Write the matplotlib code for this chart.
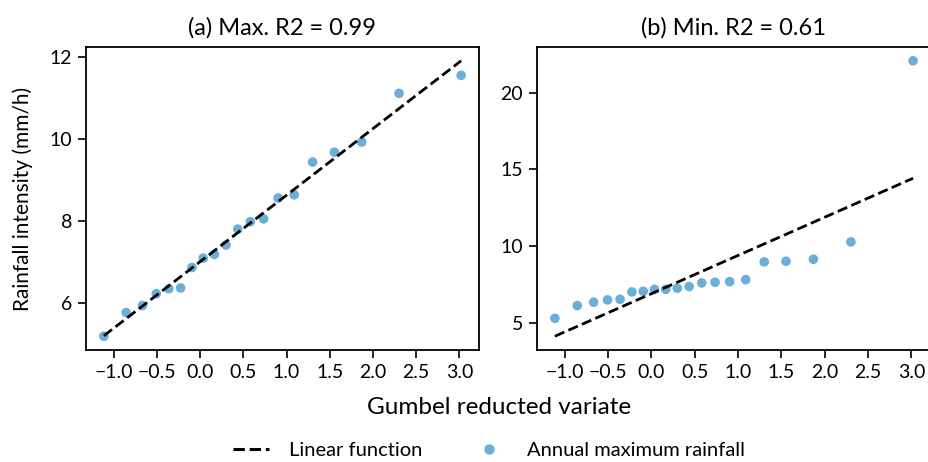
import numpy as np
import matplotlib
matplotlib.use("Agg")
import matplotlib.pyplot as plt
from matplotlib.lines import Line2D

plt.rcParams['font.family'] = ['Lato', 'DejaVu Sans']

# Gumbel reduced variate (x positions)
gumbel_x = [-1.113, -0.855, -0.666, -0.506, -0.361, -0.225, -0.094, 0.036,
            0.166, 0.299, 0.436, 0.581, 0.735, 0.903, 1.089, 1.302, 1.554,
            1.870, 2.302, 3.020]
# Panel (a) annual maximum rainfall intensity (mm/h)
rain_a = [5.18, 5.76, 5.93, 6.22, 6.34, 6.36, 6.86, 7.09, 7.18, 7.41, 7.80,
          7.98, 8.05, 8.56, 8.64, 9.44, 9.68, 9.93, 11.12, 11.56]
# Panel (b)
rain_b = [5.28, 6.11, 6.33, 6.48, 6.52, 7.00, 7.04, 7.17, 7.17, 7.24, 7.35,
          7.59, 7.63, 7.67, 7.80, 8.96, 9.00, 9.13, 10.26, 22.07]
titles = ["(a) Max. R2 = 0.99", "(b) Min. R2 = 0.61"]
xticks = [-1.0, -0.5, 0.0, 0.5, 1.0, 1.5, 2.0, 2.5, 3.0]

W, H = 929, 462
fig = plt.figure(figsize=(W / 100, H / 100), dpi=100)
ax_a = fig.add_axes([86 / W, 1 - 350 / H, (479 - 86) / W, (350 - 47) / H])
ax_b = fig.add_axes([537 / W, 1 - 350 / H, (931 - 537) / W, (350 - 47) / H])

pt_color = '#6baed6'
for ax, y, t in zip([ax_a, ax_b], [rain_a, rain_b], titles):
    x = np.array(gumbel_x)
    yy = np.array(y)
    k, b = np.polyfit(x, yy, 1)
    ax.plot(x, k * x + b, color='black', linestyle='--', linewidth=2, zorder=3)
    ax.scatter(x, yy, s=48, color=pt_color, edgecolors='none', zorder=2)
    ax.set_title(t, fontsize=17, pad=9)
    ax.set_xticks(xticks)
    ax.set_xticklabels([f"{v:.1f}".replace('-', '\u2212') for v in xticks])
    ax.tick_params(labelsize=14, width=1.2, length=6, pad=4)
    for s in ax.spines.values():
        s.set_linewidth(1.3)

ax_a.set_yticks([6, 8, 10, 12])
ax_b.set_yticks([5, 10, 15, 20])
ax_a.set_ylabel("Rainfall intensity (mm/h)", fontsize=15)
ax_a.yaxis.set_label_coords((33 - 86) / 393, 0.5)

fig.text(499 / W, 1 - 408 / H, "Gumbel reducted variate",
         ha='center', va='center', fontsize=17.5)

handles = [Line2D([0], [0], color='black', linestyle='--', linewidth=2.2),
           Line2D([0], [0], marker='o', color='none', markerfacecolor=pt_color,
                  markeredgecolor='none', markersize=7.5)]
fig.legend(handles, ["Linear function", "Annual maximum rainfall"],
           loc='center', bbox_to_anchor=(489 / W, 1 - 450 / H), ncol=2,
           frameon=False, fontsize=14.5, columnspacing=2.4, handlelength=1.8,
           handletextpad=1.0)

fig.savefig("out.png", dpi=100)
